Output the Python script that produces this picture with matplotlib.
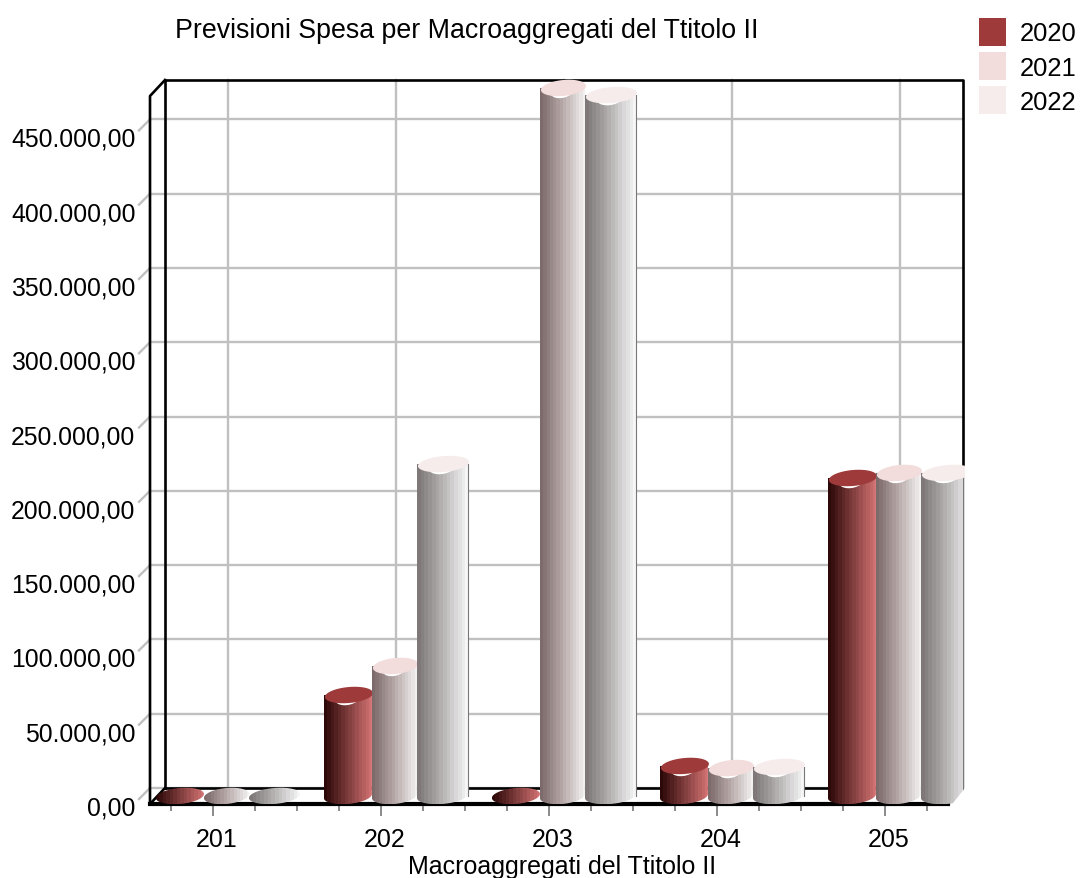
import numpy as np
import matplotlib
matplotlib.use('Agg')
import matplotlib.pyplot as plt
from matplotlib.colors import LinearSegmentedColormap
from matplotlib.patches import Patch, PathPatch, Polygon
from matplotlib.path import Path
from matplotlib.transforms import Affine2D

plt.rcParams['font.family'] = ['Liberation Sans', 'DejaVu Sans']

## Data
categories = ['201', '202', '203', '204', '205']
years = ['2020', '2021', '2022']
values_2020 = [5400, 73350, 5400, 25600, 219400]
values_2021 = [5400, 92900, 481900, 24200, 222800]
values_2022 = [5400, 228800, 477100, 24900, 222800]
y_ticks = [0, 50000, 100000, 150000, 200000, 250000, 300000, 350000, 400000, 450000]
y_labels = ['0,00', '50.000,00', '100.000,00', '150.000,00', '200.000,00',
            '250.000,00', '300.000,00', '350.000,00', '400.000,00', '450.000,00']
title = 'Previsioni Spesa per Macroaggregati del Ttitolo II'
xlabel = 'Macroaggregati del Ttitolo II'

series = [values_2020, values_2021, values_2022]
cap_colors = ['#9e3a3a', '#f2dcdc', '#f6ecec']
ramps = [['#2d0808', '#7f3c3c', '#d07070'],
         ['#7d6a6a', '#b9abab', '#f2f0f0'],
         ['#7e7878', '#b8b4b4', '#f6f6f6']]
edges = [-0.34, -0.054, 0.214, 0.518]

W, H = 1080, 879
PX_X = 1 / 168          # data x per pixel
PX_Y = 673              # data y per pixel
BASE = 5400             # centre of the bottom ellipse
DX, DY = 15, 16         # offset of the back wall in pixels

fig = plt.figure(figsize=(W / 100, H / 100), dpi=100)
ax = fig.add_axes([150 / W, 1 - 805 / H, 798 / W, 708 / H])
ax.set_facecolor('none')
for s in ax.spines.values():
    s.set_visible(False)

back = ax.transData + Affine2D().translate(DX, DY)
xl, xr = -0.375, 4.375
xb = xr + DX * PX_X
ymax = 708 * PX_Y


def ellipse(cx, a, v, t):
    # tilted ellipse in data coords, right side sits a bit higher
    b = 8 * PX_Y
    tilt = 2 * PX_Y
    return cx + a * np.cos(t), v + b * np.sin(t) + tilt * np.cos(t)


## Back wall
for v in y_ticks:
    ax.plot([xl - DX * PX_X, xr], [v, v], color='#c0c0c0', lw=1.7, transform=back, zorder=1, clip_on=False)
    ax.plot([xl, xl - 11 * PX_X], [v + 16 * PX_Y, v + 5 * PX_Y], color='#c0c0c0', lw=1.7, zorder=1, clip_on=False)
for i in range(len(categories)):
    ax.plot([i, i], [0, ymax], color='#c0c0c0', lw=1.7, transform=back, zorder=1, clip_on=False)
ax.plot([xl, xl, xr, xr, xl], [0, ymax, ymax, 0, 0], color='k', lw=1.9, transform=back, zorder=1.5, clip_on=False)
ax.plot([xl, xl, xl + DX * PX_X], [0, ymax, ymax + DY * PX_Y], color='k', lw=1.9, zorder=1.5, clip_on=False)
ax.plot([xl, xl + DX * PX_X], [0, DY * PX_Y], color='k', lw=1.9, zorder=1.5, clip_on=False)
ax.plot([xl, xr], [0, 0], color='k', lw=3, zorder=2, clip_on=False)

## Bars
for s, vals in enumerate(series):
    cmap = LinearSegmentedColormap.from_list('r', ramps[s], N=14)
    grad = np.linspace(0, 1, 14).reshape(1, -1)
    for i, v in enumerate(vals):
        x0, x1 = i + edges[s], i + edges[s + 1]
        cx, a = (x0 + x1) / 2, (x1 - x0) / 2
        flat = v <= BASE
        if flat:
            t = np.linspace(0, 2 * np.pi, 60)
            px, py = ellipse(cx, a, BASE, t)
        else:
            t = np.linspace(0, -np.pi, 40)
            px, py = ellipse(cx, a, BASE, t)
            px = np.r_[x0, x1, px]
            py = np.r_[v, v, py]
        top = max(py.max(), v)
        im = ax.imshow(grad, extent=(x0, x1, 0, top), aspect='auto', cmap=cmap,
                       interpolation='nearest', zorder=3 + s)
        clip = PathPatch(Path(np.c_[px, py]), transform=ax.transData)
        im.set_clip_path(clip)
        im.set_clip_box(fig.bbox)
        if flat:
            continue
        if s == 2:
            xe = min(x1, xb)
            ax.plot([xe, xe], [BASE, v], color='#777777', lw=0.8, zorder=3.5 + s, clip_on=False)
        t = np.linspace(0, 2 * np.pi, 60)
        wx, wy = ellipse(cx, a * 0.55, v - 2 * PX_Y, t)
        ax.add_patch(Polygon(np.c_[wx, wy], fc='white', ec='none', zorder=3.6 + s, clip_on=False))
        cxs, cys = ellipse(cx + 1 * PX_X, a, v, t)
        ax.add_patch(Polygon(np.c_[cxs, cys], fc=cap_colors[s], ec='none', zorder=3.7 + s, clip_on=False))

## Floor corner and right side cut off the last bar
ax.add_patch(Polygon([[xr + 1 * PX_X, -4 * PX_Y], [xb + 12 * PX_X, -4 * PX_Y], [xb + 12 * PX_X, 360000],
                      [xb + 1.5 * PX_X, 360000], [xb + 1.5 * PX_X, DY * PX_Y]],
                     fc='white', ec='none', zorder=9, clip_on=False))

## Axes
ax.set_xlim(xl, xr)
ax.set_ylim(0, ymax)
ax.set_yticks(y_ticks)
ax.set_yticklabels(y_labels, fontsize=17.8)
ax.tick_params(axis='y', length=0, pad=10.5)
for lab in ax.get_yticklabels():
    lab.set_transform(lab.get_transform() + Affine2D().translate(0, -1))
ax.set_xticks(range(len(categories)))
ax.set_xticklabels(categories, fontsize=18)
ax.set_xticks(np.arange(-0.25, 4.3, 0.25), minor=True)
ax.tick_params(axis='x', which='major', length=8.5, width=1.2, color='#777777', pad=8)
ax.tick_params(axis='x', which='minor', length=5, width=1.2, color='#777777')
for lab in ax.get_xticklabels():
    lab.set_transform(lab.get_transform() + Affine2D().translate(4, 0))

fig.text(175 / W, 1 - 31 / H, title, fontsize=19.3, va='center', ha='left')
fig.text(562 / W, 1 - 867 / H, xlabel, fontsize=18, va='center', ha='center')

handles = [Patch(fc=c, ec='none') for c in cap_colors]
fig.legend(handles, years, loc='upper left', bbox_to_anchor=(979 / W, 1 - 19 / H), frameon=False,
           fontsize=18.4, borderpad=0, borderaxespad=0, handlelength=1.06, handleheight=1.3,
           handletextpad=0.55, labelspacing=0.25)

plt.savefig('out.png', dpi=100)
